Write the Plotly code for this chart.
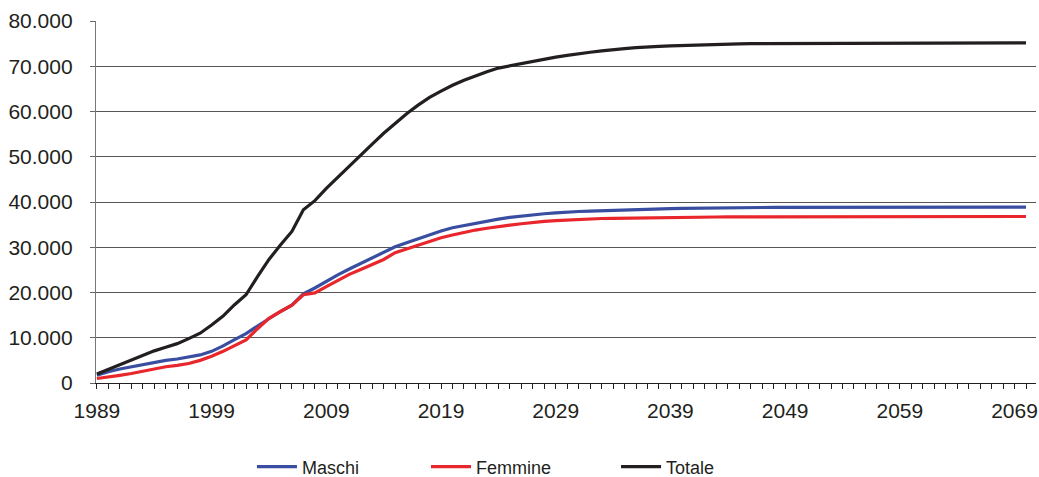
import plotly.graph_objects as go

years = list(range(1989, 2071))

maschi = [1700, 2500, 3100, 3600, 4100, 4600, 5000, 5300, 5700, 6200,
          7000, 8200, 9600, 10900, 12600, 14300, 15800, 17200, 19700, 21000,
          22500, 23900, 25200, 26400, 27600, 28800, 30100, 31000, 31900, 32800,
          33600, 34300, 34800, 35300, 35800, 36200, 36600, 36900, 37100, 37400,
          37600, 37800, 37900, 38000, 38100, 38200, 38300, 38400, 38450, 38500,
          38550, 38600, 38650, 38700, 38750, 38760, 38770, 38780, 38790, 38800,
          38800, 38800, 38810, 38810, 38820, 38820, 38820, 38830, 38830, 38830,
          38840, 38840, 38840, 38840, 38850, 38850, 38850, 38850, 38850, 38850,
          38850, 38850]

femmine = [1000, 1300, 1700, 2100, 2600, 3200, 3600, 3900, 4300, 5000,
           5900, 7000, 8300, 9500, 12000, 14300, 15800, 17200, 19500, 19900,
           21300, 22700, 24000, 25100, 26200, 27300, 28800, 29600, 30500, 31300,
           32100, 32700, 33300, 33800, 34200, 34600, 34900, 35200, 35500, 35700,
           35900, 36050, 36150, 36250, 36350, 36400, 36450, 36500, 36550, 36580,
           36600, 36620, 36640, 36660, 36680, 36700, 36710, 36720, 36730, 36740,
           36750, 36750, 36760, 36760, 36770, 36770, 36780, 36780, 36780, 36790,
           36790, 36790, 36800, 36800, 36800, 36800, 36800, 36800, 36800, 36800,
           36800, 36800]

totale = [2000, 3000, 4100, 5000, 6000, 7100, 7900, 8700, 9800, 11000,
          12800, 14800, 17300, 19500, 23500, 27300, 30500, 33500, 38300, 40300,
          43000, 45500, 48000, 50300, 52800, 55200, 57400, 59500, 61400, 63100,
          64500, 65800, 66900, 67900, 68800, 69600, 70100, 70600, 71100, 71600,
          72000, 72400, 72800, 73100, 73400, 73700, 73900, 74100, 74300, 74400,
          74500, 74600, 74700, 74800, 74850, 74900, 74950, 75000, 75000, 75050,
          75050, 75050, 75100, 75100, 75100, 75100, 75100, 75100, 75100, 75100,
          75100, 75100, 75100, 75150, 75150, 75150, 75150, 75150, 75150, 75150,
          75150, 75150]

series = [("Maschi", maschi, "#3a4ea1", "legend"),
          ("Femmine", femmine, "#e8262b", "legend2"),
          ("Totale", totale, "#231f20", "legend3")]

fig = go.Figure()
for name, vals, color, lg in series:
    fig.add_trace(go.Scatter(x=years, y=vals, mode="lines", name=name,
                             line=dict(color=color, width=3.2), legend=lg))

legend_font = dict(family="Liberation Sans Narrow, Liberation Sans, Arial", size=18, color="#231f20")
def leg(x):
    return dict(xref="container", yref="container", x=x, y=0.021,
                xanchor="left", yanchor="middle", orientation="h",
                itemwidth=40,
                font=legend_font, bgcolor="rgba(0,0,0,0)", borderwidth=0)

fig.update_layout(
    width=1039, height=477,
    margin=dict(l=96, r=3, t=21, b=94, autoexpand=False),
    paper_bgcolor="white", plot_bgcolor="white",
    separators=",.",
    font=dict(family="Liberation Sans, Arial", size=21, color="#231f20"),
    legend=leg(0.2425), legend2=leg(0.41), legend3=leg(0.5929),
    showlegend=True,
)
fig.update_xaxes(
    range=[1988.92, 2070.87], tick0=1989, dtick=10,
    ticks="outside", ticklen=5, tickcolor="#231f20", tickwidth=1,
    minor=dict(ticks="outside", dtick=1, tick0=1989, ticklen=5, tickcolor="#231f20", showgrid=False),
    showline=True, linecolor="#231f20", linewidth=1.3,
    showgrid=False, zeroline=False,
    tickfont=dict(size=21), ticklabelstandoff=4,
)
fig.update_yaxes(
    range=[0, 80000], dtick=10000, tickformat=",d",
    ticks="outside", ticklen=5, tickcolor="#666", tickwidth=1,
    showline=True, linecolor="#777", linewidth=1.3,
    showgrid=True, gridcolor="#555", gridwidth=1, zeroline=False,
    tickfont=dict(size=21), ticklabelstandoff=13,
)

fig.write_html(
    "out.html",
    config={"displayModeBar": False},
    post_script="document.body.style.margin='0';document.body.style.overflow='hidden';",
)
